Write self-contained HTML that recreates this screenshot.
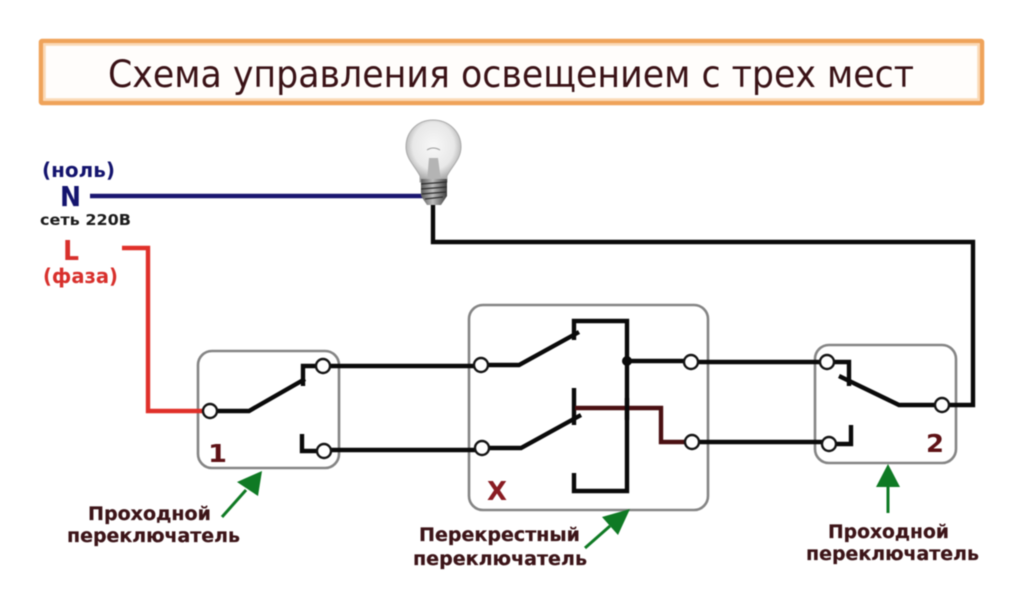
<!DOCTYPE html>
<html lang="ru">
<head>
<meta charset="utf-8">
<title>Схема управления освещением с трех мест</title>
<style>
html,body{margin:0;padding:0;background:#fff;width:1024px;height:598px;overflow:hidden}
svg{display:block;filter:blur(0.45px)}
text{font-family:"DejaVu Sans","Liberation Sans",sans-serif}
.b{font-weight:bold}
.w{fill:none;stroke:#0a0a0a;stroke-width:4.4;stroke-linejoin:miter;stroke-linecap:butt}
.box{fill:#fff;stroke:#858585;stroke-width:2.6}
.t{fill:#fff;stroke:#141414;stroke-width:2.4}
.lab{fill:#3c1418;font-weight:bold;font-size:18.5px;stroke:#3c1418;stroke-width:.25px}
</style>
</head>
<body>
<svg width="1024" height="598" viewBox="0 0 1024 598" xmlns="http://www.w3.org/2000/svg">
<defs>
<radialGradient id="glass" cx="0.5" cy="0.42" r="0.58">
<stop offset="0" stop-color="#f8f8f8"/>
<stop offset="0.65" stop-color="#e8e8e8"/>
<stop offset="1" stop-color="#a0a0a0"/>
</radialGradient>
<linearGradient id="base" x1="0" x2="1" y1="0" y2="0">
<stop offset="0" stop-color="#5a5a5a"/>
<stop offset="0.45" stop-color="#bcbcbc"/>
<stop offset="1" stop-color="#3e3e3e"/>
</linearGradient>
</defs>

<rect x="0" y="0" width="1024" height="598" fill="#fff"/>

<!-- title -->
<rect x="41" y="41" width="941" height="62" rx="1" fill="#fffdfb" stroke="#efa35a" stroke-width="4.5"/>
<rect x="44.5" y="44.5" width="934" height="55" fill="none" stroke="#fbd9b6" stroke-width="2.5"/>
<text x="108" y="87" font-size="37" fill="#3a1216" textLength="806" lengthAdjust="spacingAndGlyphs">Схема управления освещением с трех мест</text>

<!-- boxes -->
<rect class="box" x="198" y="351" width="141" height="117" rx="14"/>
<rect class="box" x="469" y="305" width="239" height="205" rx="14"/>
<rect class="box" x="815" y="345" width="141" height="118" rx="14"/>

<!-- source labels -->
<text class="b" x="42" y="177" font-size="20" fill="#14146e" textLength="73" lengthAdjust="spacingAndGlyphs">(ноль)</text>
<text class="b" x="60" y="206" font-size="28" fill="#14146e" textLength="21" lengthAdjust="spacingAndGlyphs">N</text>
<text class="b" x="40" y="225" font-size="15" fill="#1c1c1c" textLength="91" lengthAdjust="spacingAndGlyphs">сеть 220В</text>
<text class="b" x="63" y="260" font-size="28" fill="#d8302c" textLength="16" lengthAdjust="spacingAndGlyphs">L</text>
<text class="b" x="43" y="283" font-size="20" fill="#d8302c" textLength="75" lengthAdjust="spacingAndGlyphs">(фаза)</text>

<!-- neutral + phase + lamp return -->
<path d="M90 196H426" fill="none" stroke="#1a1670" stroke-width="4.4"/>
<path d="M122 248H148V411H204" fill="none" stroke="#e0302a" stroke-width="4.4"/>
<path class="w" d="M433 204V242H973V405H948"/>

<!-- switch 1 -->
<path class="w" d="M217 411H249L305 379"/>
<path class="w" d="M303 386V366H317"/>
<path class="w" d="M302 434V451H317"/>
<path class="w" d="M330 366H474"/>
<path class="w" d="M330 450H475"/>

<!-- cross switch -->
<path class="w" d="M487 365H519L579 332"/>
<path class="w" d="M574 340V321H627V491H574V473"/>
<circle cx="627" cy="361" r="5" fill="#0a0a0a"/>
<path class="w" d="M627 361H685"/>
<path class="w" d="M488 448H521L581 415"/>
<path class="w" d="M574 388V425"/>
<path d="M575 408H661V442H686" fill="none" stroke="#4a1012" stroke-width="4.4"/>
<path class="w" d="M627 398V420"/>
<path class="w" d="M697 362H821"/>
<path class="w" d="M698 442H823"/>

<!-- switch 2 -->
<path class="w" d="M833 362H849V386"/>
<path class="w" d="M839 376L899 405H936"/>
<path class="w" d="M835 444H851V425"/>

<!-- terminals -->
<circle class="t" cx="210" cy="411" r="7"/>
<circle class="t" cx="323" cy="366" r="7"/>
<circle class="t" cx="324" cy="451" r="7"/>
<circle class="t" cx="481" cy="365" r="7"/>
<circle class="t" cx="482" cy="448" r="7"/>
<circle class="t" cx="691" cy="362" r="7"/>
<circle class="t" cx="692" cy="442" r="7"/>
<circle class="t" cx="827" cy="362" r="7"/>
<circle class="t" cx="829" cy="444" r="7"/>
<circle class="t" cx="942" cy="405" r="7"/>

<!-- numbers -->
<text class="b" x="208" y="462" font-size="25" fill="#5e1216" textLength="19" lengthAdjust="spacingAndGlyphs">1</text>
<text class="b" x="926" y="452" font-size="25" fill="#5e1216" textLength="18" lengthAdjust="spacingAndGlyphs">2</text>
<text class="b" x="487" y="500" font-size="26" fill="#8a1c22" textLength="20" lengthAdjust="spacingAndGlyphs">X</text>

<!-- arrows -->
<path d="M222 517L246 490" stroke="#0f7a24" stroke-width="3" fill="none"/>
<polygon points="262,471 237,482 258,496" fill="#0f7a24"/>
<path d="M585 548L610 526" stroke="#0f7a24" stroke-width="3" fill="none"/>
<polygon points="630,509 602,517 618,535" fill="#0f7a24"/>
<path d="M888 513V485" stroke="#0f7a24" stroke-width="3" fill="none"/>
<polygon points="888,464 876,487 900,487" fill="#0f7a24"/>

<!-- captions -->
<text class="lab" x="88" y="520" textLength="123" lengthAdjust="spacingAndGlyphs">Проходной</text>
<text class="lab" x="67" y="542" textLength="173" lengthAdjust="spacingAndGlyphs">переключатель</text>
<text class="lab" x="419" y="541" textLength="161" lengthAdjust="spacingAndGlyphs">Перекрестный</text>
<text class="lab" x="413" y="565" textLength="174" lengthAdjust="spacingAndGlyphs">переключатель</text>
<text class="lab" x="828" y="538" textLength="121" lengthAdjust="spacingAndGlyphs">Проходной</text>
<text class="lab" x="806" y="560" textLength="173" lengthAdjust="spacingAndGlyphs">переключатель</text>

<!-- lamp -->
<path d="M433 120C449 120 461 132 461 147C461 159 452 166 447 176V182H420V176C415 166 406 159 406 147C406 132 417 120 433 120Z" fill="url(#glass)" stroke="#a8a8a8" stroke-width="1"/>
<path d="M427 181L429 158H438L441 181Z" fill="#b4b4b4"/>
<path d="M427 150Q433 146 440 150" fill="none" stroke="#9a9a9a" stroke-width="1"/>
<path d="M421 179H447V196L441 205H427L421 196Z" fill="url(#base)"/>
<path d="M421 184L447 182M421 189L447 187M422 194L446 192M425 199L443 197" stroke="#2e2e2e" stroke-width="1.3" fill="none"/>
</svg>
</body>
</html>
